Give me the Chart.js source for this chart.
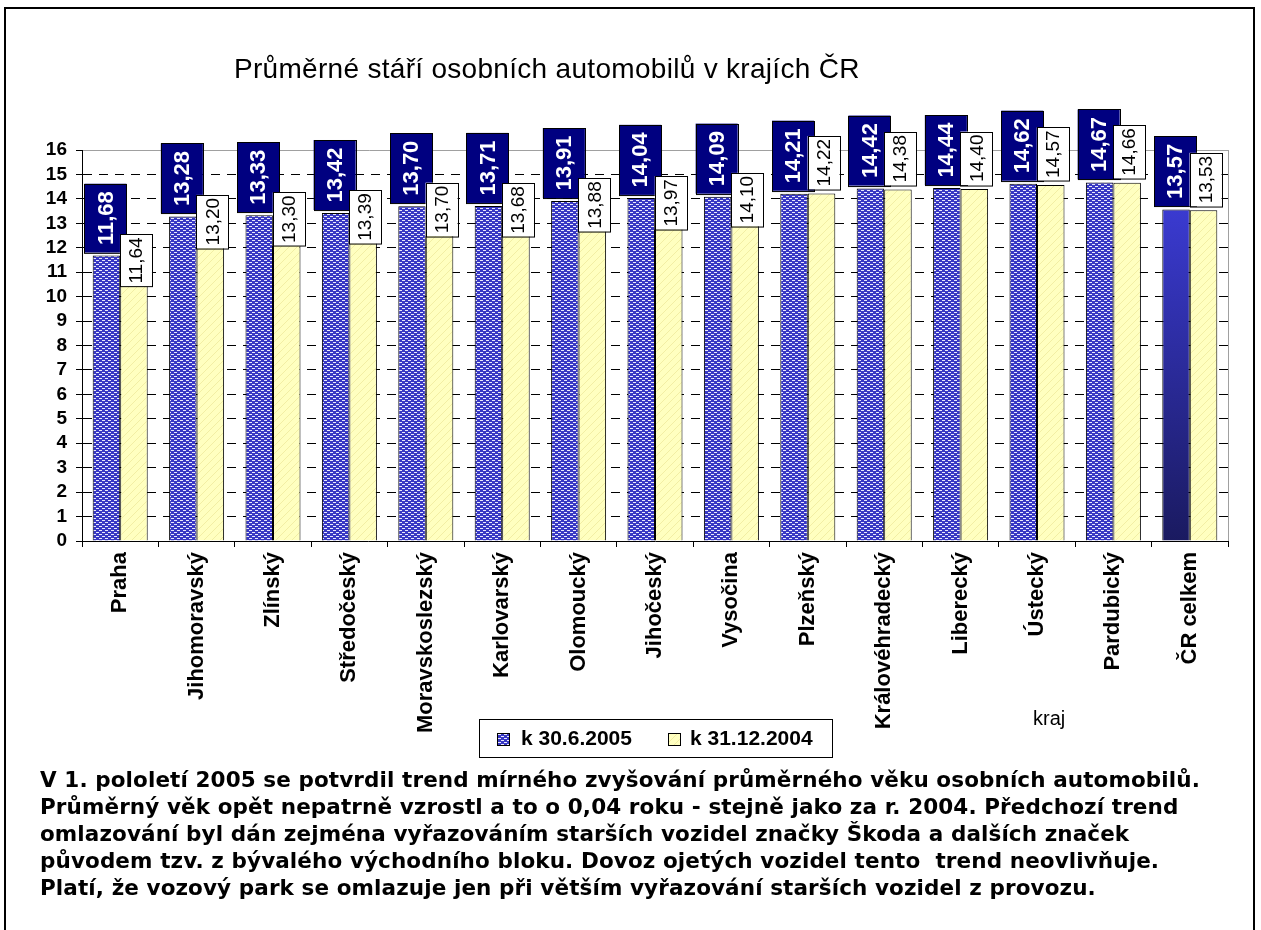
<!DOCTYPE html>
<html>
<head>
<meta charset="utf-8">
<script src="https://cdn.jsdelivr.net/npm/chart.js@4"></script>
<style>
  body { margin: 0; background: #fff; }
  #wrap { position: relative; width: 1261px; height: 930px; overflow: hidden; }
  #frame { position: absolute; left: 4px; top: 7px; width: 1247px; height: 940px; border: 2px solid #000; }
  #chart { position: absolute; left: 0; top: 0; }
  #title { position: absolute; left: 234px; width: 600px; top: 53px; text-align: center; white-space: nowrap;
    font: 28px 'Liberation Sans', Arial, sans-serif; letter-spacing: 0.3px; }
  #legend { position: absolute; left: 479px; top: 719px; width: 352px; height: 37px; border: 1px solid #000;
    font: bold 21px 'Liberation Sans', Arial, sans-serif; background: #fff; }
  #legend span.box { position: absolute; top: 13px; width: 11px; height: 11px; border: 1px solid #000; }
  #legend span.txt { position: absolute; top: 6px; }
  #kraj { position: absolute; left: 1033px; top: 707px; font: 20px 'Liberation Sans', Arial, sans-serif; }
  #note { position: absolute; left: 40px; top: 766px; font: bold 21.5px 'DejaVu Sans', Verdana, sans-serif;
    line-height: 27px; white-space: pre; color: #000; letter-spacing: 0.1px; }
</style>
</head>
<body>
<div id="wrap">
  <canvas id="chart" width="1261" height="930"></canvas>
  <div id="frame"></div>
  <div id="title">Průměrné stáří osobních automobilů v krajích ČR</div>
  <div id="legend">
    <span class="box" id="lg1" style="left:17px"></span><span class="txt" style="left:41px">k 30.6.2005</span>
    <span class="box" id="lg2" style="left:188px"></span><span class="txt" style="left:210px">k 31.12.2004</span>
  </div>
  <div id="kraj">kraj</div>
  <div id="note">V 1. pololetí 2005 se potvrdil trend mírného zvyšování průměrného věku osobních automobilů.
Průměrný věk opět nepatrně vzrostl a to o 0,04 roku - stejně jako za r. 2004. Předchozí trend
omlazování byl dán zejména vyřazováním starších vozidel značky Škoda a dalších značek
původem tzv. z bývalého východního bloku. Dovoz ojetých vozidel tento  trend neovlivňuje.
Platí, že vozový park se omlazuje jen při větším vyřazování starších vozidel z provozu.</div>
</div>
<script>
// Průměrné stáří osobních automobilů v krajích ČR

const regions = ['Praha', 'Jihomoravský', 'Zlínský', 'Středočeský', 'Moravskoslezský', 'Karlovarský',
  'Olomoucký', 'Jihočeský', 'Vysočina', 'Plzeňský', 'Královéhradecký', 'Liberecký', 'Ústecký',
  'Pardubický', 'ČR celkem'];
const age2005 = [11.68, 13.28, 13.33, 13.42, 13.70, 13.71, 13.91, 14.04, 14.09, 14.21, 14.42, 14.44, 14.62, 14.67, 13.57];
const age2004 = [11.64, 13.20, 13.30, 13.39, 13.70, 13.68, 13.88, 13.97, 14.10, 14.22, 14.38, 14.40, 14.57, 14.66, 13.53];
const seriesNames = ['k 30.6.2005', 'k 31.12.2004'];
const yMin = 0, yMax = 16, yStep = 1;

const font = "'Liberation Sans', Arial, sans-serif";

// Fill patterns (Excel style)
function makePattern(w, h, draw) {
  const c = document.createElement('canvas');
  c.width = w; c.height = h;
  draw(c.getContext('2d'));
  return c;
}
const blueTile = makePattern(6, 4, g => {
  g.fillStyle = '#3838c4'; g.fillRect(0, 0, 6, 4);
  g.fillStyle = '#e8e8fc';
  g.fillRect(0, 0, 3, 1);
  g.fillRect(3, 2, 3, 1);
});
const yellowTile = makePattern(8, 8, g => {
  g.fillStyle = '#ffffc0'; g.fillRect(0, 0, 8, 8);
  g.strokeStyle = '#f2eea4'; g.lineWidth = 1;
  g.beginPath(); g.moveTo(0, 8); g.lineTo(8, 0); g.stroke();
});
const ctx0 = document.getElementById('chart').getContext('2d');
const bluePattern = ctx0.createPattern(blueTile, 'repeat');
const yellowPattern = ctx0.createPattern(yellowTile, 'repeat');

document.getElementById('lg1').style.background = 'url(' + blueTile.toDataURL() + ')';
document.getElementById('lg2').style.background = 'url(' + yellowTile.toDataURL() + ')';

function totalFill(context) {
  const area = context.chart.chartArea;
  if (!area) return '#2a2aa0';
  const g = context.chart.ctx.createLinearGradient(0, area.top + 60, 0, area.bottom);
  g.addColorStop(0, '#3a3ad0');
  g.addColorStop(1, '#1a1a60');
  return g;
}

const fmt = v => v.toFixed(2).replace('.', ',');

// Value labels: navy boxes for 2005, white boxes for 2004
const valueLabels = {
  id: 'valueLabels',
  afterDatasetsDraw(chart) {
    const ctx = chart.ctx;
    const drawBox = (cx, bottom, w, text, fill, color, f, pad) => {
      ctx.font = f;
      const h = ctx.measureText(text).width + pad;
      ctx.fillStyle = fill;
      ctx.fillRect(cx - w / 2, bottom - h, w, h);
      ctx.strokeStyle = '#000';
      ctx.lineWidth = 1;
      ctx.strokeRect(Math.round(cx - w / 2) + 0.5, Math.round(bottom - h) + 0.5, w, h);
      ctx.save();
      ctx.translate(cx + 1, bottom - h / 2);
      ctx.rotate(-Math.PI / 2);
      ctx.fillStyle = color;
      ctx.textAlign = 'center';
      ctx.textBaseline = 'middle';
      ctx.fillText(text, 0, 0);
      ctx.restore();
    };
    chart.getDatasetMeta(0).data.forEach((bar, i) => {
      drawBox(bar.x - 1, bar.y - 3, 42, fmt(age2005[i]), '#000080', '#fff', 'bold 22px ' + font, 15);
    });
    chart.getDatasetMeta(1).data.forEach((bar, i) => {
      const drop = i < 9 ? 30 : -4;
      drawBox(bar.x + 2, bar.y + drop, 32, fmt(age2004[i]), '#fff', '#000', '19px ' + font, 6);
    });
  }
};

// Right edge of the plot area
const plotEdge = {
  id: 'plotEdge',
  beforeDatasetsDraw(chart) {
    const {ctx, chartArea: a} = chart;
    ctx.save();
    ctx.strokeStyle = '#a0a0a0';
    ctx.lineWidth = 1;
    ctx.beginPath();
    ctx.moveTo(Math.round(a.right) + 0.5, a.top);
    ctx.lineTo(Math.round(a.right) + 0.5, a.bottom);
    ctx.stroke();
    ctx.restore();
  }
};

Chart.defaults.font.family = font;
Chart.defaults.color = '#000';

new Chart(document.getElementById('chart'), {
  type: 'bar',
  data: {
    labels: regions,
    datasets: [{
      label: seriesNames[0],
      data: age2005,
      backgroundColor: c => c.dataIndex === regions.length - 1 ? totalFill(c) : bluePattern,
      borderColor: '#000',
      borderWidth: 1,
      categoryPercentage: 0.72,
      barPercentage: 1,
    }, {
      label: seriesNames[1],
      data: age2004,
      backgroundColor: yellowPattern,
      borderColor: '#000',
      borderWidth: 1,
      categoryPercentage: 0.72,
      barPercentage: 1,
    }]
  },
  options: {
    responsive: false,
    animation: false,
    layout: {
      padding: { left: 0, right: 33, top: 150, bottom: 189 }
    },
    plugins: {
      legend: { display: false },
      tooltip: { enabled: false },
    },
    scales: {
      x: {
        afterFit: s => { s.height = 200; },
        grid: {
          drawOnChartArea: false,
          drawTicks: true,
          tickLength: 6,
          color: '#000',
          offset: true,
        },
        border: { color: '#000', width: 1 },
        ticks: {
          autoSkip: false,
          maxRotation: 90,
          minRotation: 90,
          padding: 5,
          font: { size: 22, weight: 'bold' },
        }
      },
      y: {
        min: yMin,
        max: yMax,
        afterFit: s => { s.width = 82; },
        grid: {
          color: c => c.tick && c.tick.value === yMax ? '#a0a0a0' : '#000',
          tickColor: '#000',
          tickLength: 6,
          lineWidth: 1,
        },
        border: {
          color: '#000',
          width: 1,
          dash: c => (c.tick && c.tick.value === yMax) ? [] : [9, 7],
        },
        ticks: {
          stepSize: yStep,
          autoSkip: false,
          padding: 9,
          font: { size: 19, weight: 'bold' },
        }
      }
    }
  },
  plugins: [valueLabels, plotEdge]
});
</script>
</body>
</html>
